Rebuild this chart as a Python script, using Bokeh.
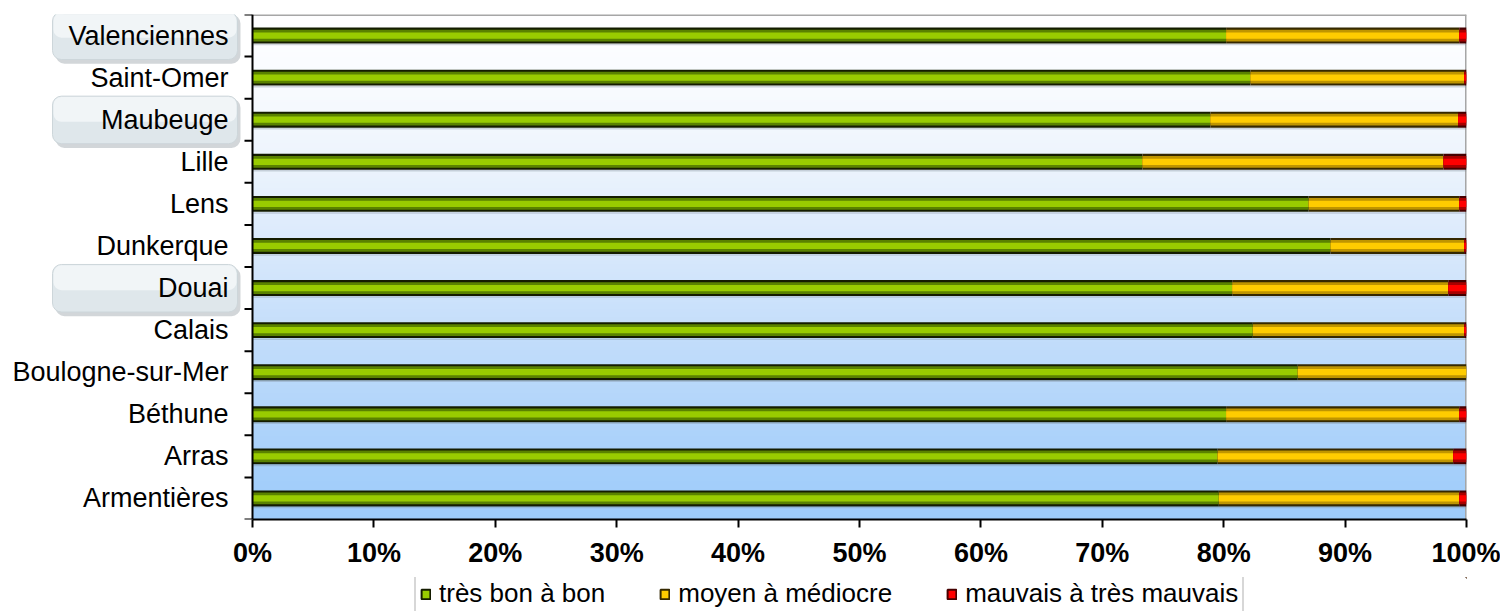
import numpy as np
from bokeh.plotting import figure
from bokeh.layouts import column
from bokeh.models import (Range1d, FixedTicker, PrintfTickFormatter, ColumnDataSource,
                          Legend, LegendItem)
from bokeh.core.properties import value
from bokeh.embed import file_html
from bokeh.resources import INLINE

# ---------------- data (top to bottom as displayed) ----------------
cities = ["Valenciennes", "Saint-Omer", "Maubeuge", "Lille", "Lens", "Dunkerque",
          "Douai", "Calais", "Boulogne-sur-Mer", "Béthune", "Arras", "Armentières"]
tres_bon = [80.2, 82.2, 78.9, 73.3, 87.0, 88.8, 80.7, 82.4, 86.1, 80.2, 79.5, 79.6]
moyen = [19.2, 17.6, 20.4, 24.8, 12.4, 11.0, 17.8, 17.4, 13.9, 19.2, 19.4, 19.8]
mauvais = [0.6, 0.2, 0.7, 1.9, 0.6, 0.2, 1.5, 0.2, 0.0, 0.6, 1.1, 0.6]
highlighted = ["Valenciennes", "Maubeuge", "Douai"]
series_names = ["très bon à bon", "moyen à médiocre", "mauvais à très mauvais"]
x_ticks = [0, 10, 20, 30, 40, 50, 60, 70, 80, 90, 100]

n = len(cities)
ypos = [n - 1 - i + 0.5 for i in range(n)]  # first city at top

# layout constants (pixels)
FRAME_W = 1466
LABEL_COL = 252
PX = (FRAME_W - LABEL_COL) / 100.0  # pixels per percent
px = lambda v: v / PX               # pixels -> data units on x

p = figure(width=1500, frame_width=FRAME_W, frame_height=505, output_backend="svg",
           toolbar_location=None, y_axis_location=None,
           x_range=Range1d(-LABEL_COL / PX, 100), y_range=Range1d(0, n),
           min_border_left=0, min_border_right=34, min_border_top=14, min_border_bottom=58)
p.background_fill_color = "white"
p.border_fill_color = "white"
p.outline_line_color = None
p.grid.visible = False

# ---- gradient background (white at top -> light blue at bottom) ----
stops_t = [0.0, 0.15, 0.3, 0.45, 0.6, 0.75, 0.9, 1.0]
stops_c = [(255, 255, 255), (248, 251, 255), (236, 244, 253), (219, 234, 252),
           (200, 224, 251), (182, 215, 250), (166, 208, 250), (158, 204, 250)]
rows = 200
t = 1 - (np.arange(rows) + 0.5) / rows  # row 0 = bottom
img = np.zeros((rows, 1), dtype=np.uint32)
view = img.view(dtype=np.uint8).reshape((rows, 1, 4))
for k in range(3):
    view[:, 0, k] = np.interp(t, stops_t, [c[k] for c in stops_c]).astype(np.uint8)
view[:, 0, 3] = 255
p.image_rgba(image=[img], x=0, y=0, dw=100, dh=n, level="image")

# plot-area border (top and right, grey)
p.segment(x0=[0, 100], y0=[n, 0], x1=[100, 100], y1=[n, n],
          line_color="#a6a6a6", line_width=3)

# ---- stacked bars with cylinder shading ----
g = np.array(tres_bon)
m = np.array(moyen)
b = np.array(mauvais)
lefts = [np.zeros(n), g, g + m]
rights = [g, g + m, g + m + b]
palettes = [
    ("#141c00", "#5a8200", "#99cc00"),
    ("#352800", "#bf9500", "#ffcc00"),
    ("#450000", "#a80000", "#ff0000"),
]

# light shadow under each bar
p.hbar(y=[y - 0.215 for y in ypos], left=0, right=100, height=0.035,
       fill_color="#7f8c99", fill_alpha=0.35, line_color=None)

for s in range(3):
    src = ColumnDataSource(dict(y=ypos, left=lefts[s], right=rights[s]))
    dark, mid, bright = palettes[s]
    p.hbar(y="y", left="left", right="right", height=0.38, source=src,
           fill_color=dark, line_color=None)
    p.hbar(y="y", left="left", right="right", height=0.28, source=src,
           fill_color=mid, line_color=None)
    p.hbar(y="y", left="left", right="right", height=0.15, source=src,
           fill_color=bright, line_color=None)

# ---- y axis line and boundary ticks ----
bounds = list(range(n + 1))
p.segment(x0=[0], y0=[0], x1=[0], y1=[n], line_color="black", line_width=2)
p.segment(x0=[px(-8)] * len(bounds), y0=bounds, x1=[0] * len(bounds), y1=bounds,
          line_color="black", line_width=2)

# ---- highlighted label boxes ----
hb = [n - 1 - cities.index(c) for c in highlighted]
p.quad(left=px(52 - LABEL_COL + 3), right=px(237 - LABEL_COL + 3),
       bottom=[v - 0.17 for v in hb], top=[v + 1.0 for v in hb],
       fill_color="#7d8a92", fill_alpha=0.35, line_color=None, border_radius=9)
p.quad(left=px(52 - LABEL_COL), right=px(237 - LABEL_COL),
       bottom=[v - 0.07 for v in hb], top=[v + 1.06 for v in hb],
       fill_color="#dfe7eb", line_color="#cdd6da", line_width=1, border_radius=9)
p.quad(left=px(52 - LABEL_COL + 1), right=px(237 - LABEL_COL - 1),
       bottom=[v + 0.45 for v in hb], top=[v + 1.04 for v in hb],
       fill_color="#f1f5f7", line_color=None, border_radius=8)

# ---- y labels ----
p.text(x=px(-24), y=ypos, text=cities, text_align="right", text_baseline="middle",
       text_font=value("Liberation Sans"), text_font_size="27px", text_color="black")

# ---- x axis ----
xa = p.xaxis[0]
xa.bounds = (0, 100)
xa.ticker = FixedTicker(ticks=x_ticks)
xa.formatter = PrintfTickFormatter(format="%d%%")
xa.major_tick_out = 8
xa.major_tick_in = 0
xa.minor_tick_out = 0
xa.axis_line_width = 2
xa.axis_line_color = "black"
xa.major_tick_line_width = 2
xa.major_label_text_font = "Liberation Sans"
xa.major_label_text_font_style = "bold"
xa.major_label_text_font_size = "27px"
xa.major_label_text_color = "black"
xa.major_label_standoff = 10

# ---- legend strip (separate small figure below) ----
q = figure(width=1500, frame_width=FRAME_W, frame_height=34, output_backend="svg",
           toolbar_location=None, x_axis_location=None, y_axis_location=None,
           x_range=Range1d(0, 1), y_range=Range1d(0, 1),
           min_border_left=0, min_border_right=34, min_border_top=0, min_border_bottom=0)
q.outline_line_color = None
q.grid.visible = False
q.background_fill_color = "white"
q.border_fill_color = "white"
legend_renderers = []
for s in range(3):
    dark, mid, bright = palettes[s]
    # off-view proxy glyph, only used for the legend swatch
    legend_renderers.append(q.hbar(y=[5], left=[5], right=[6], height=1,
                                   fill_color=bright, line_color=dark, line_width=2))
items = [LegendItem(label=series_names[s], renderers=[legend_renderers[s]]) for s in range(3)]
legend = Legend(items=items, orientation="horizontal", location=(414, -4))
legend.label_text_font = "Liberation Sans"
legend.label_text_font_size = "26px"
legend.label_text_color = "black"
legend.label_height = 22
legend.glyph_width = 11
legend.glyph_height = 12
legend.label_standoff = 8
legend.spacing = 54
legend.padding = 4
legend.margin = 0
legend.border_line_color = "#b0b0b0"
legend.border_line_width = 2
legend.background_fill_color = "white"
legend.background_fill_alpha = 1.0
q.add_layout(legend, "center")

open("out.html", "w").write(file_html(column(p, q), INLINE))
